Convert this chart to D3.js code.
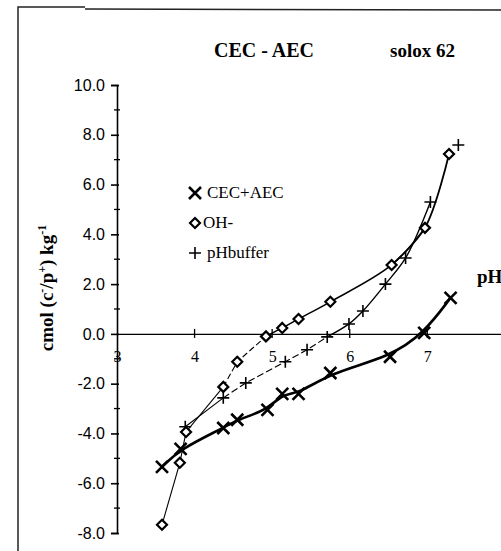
<!DOCTYPE html>
<html>
<head>
<meta charset="utf-8">
<script src="https://cdn.jsdelivr.net/npm/d3@7"></script>
<style>
  html, body { margin: 0; padding: 0; background: #fff; }
  svg { display: block; }
  .serif { font-family: "Liberation Serif", "DejaVu Serif", serif; }
  .sans { font-family: "Liberation Sans", Arial, sans-serif; }
</style>
</head>
<body>
<svg id="chart" width="501" height="551"></svg>
<script>
// CEC + AEC (cmol kg-1) against pH
const cecPH  = [3.58, 3.82, 4.37, 4.55, 4.94, 5.13, 5.34, 5.75, 6.52, 6.96, 7.30];
const cecVal = [-5.34, -4.62, -3.78, -3.45, -3.05, -2.41, -2.41, -1.57, -0.92, 0.04, 1.45];

// OH- consumption
const ohPH  = [3.58, 3.81, 3.89, 4.37, 4.55, 4.92, 5.13, 5.34, 5.75, 6.54, 6.97, 7.28];
const ohVal = [-7.67, -5.18, -3.94, -2.13, -1.12, -0.10, 0.24, 0.60, 1.29, 2.77, 4.26, 7.23];

// pH buffer curve
const bufPH  = [3.88, 4.37, 4.66, 5.17, 5.45, 5.71, 5.99, 6.17, 6.46, 6.72, 7.04, 7.40];
const bufVal = [-3.73, -2.57, -1.97, -1.12, -0.64, -0.12, 0.40, 0.92, 2.00, 3.05, 5.30, 7.59];

const yMajor = [-8, -6, -4, -2, 0, 2, 4, 6, 8, 10];
const yMinor = [-7, -5, -3, -1, 1, 3, 5, 7, 9];
const xTicks = [3, 4, 5, 6, 7];
const legendNames = ["CEC+AEC", "OH-", "pHbuffer"];

const zip = (xs, ys) => xs.map((v, i) => [v, ys[i]]);
const cec = zip(cecPH, cecVal);
const oh = zip(ohPH, ohVal);
const buf = zip(bufPH, bufVal);

const svg = d3.select("#chart");
const x = d3.scaleLinear().domain([3, 7.95]).range([117, 501]);
const y = d3.scaleLinear().domain([-8, 10]).range([533, 85]);

// page frame
svg.append("path")
  .attr("d", "M18,551 L18,7 L85,7 M85,9 L501,10")
  .attr("fill", "none").attr("stroke", "#222").attr("stroke-width", 1.5);

// y axis
const yAxis = svg.append("g").attr("transform", `translate(${x(3)},0)`)
  .call(d3.axisLeft(y).tickValues(yMajor).tickFormat(d => d.toFixed(1)).tickSize(6).tickPadding(6));
yAxis.select(".domain").attr("stroke", "#000").attr("stroke-width", 1.6);
yAxis.selectAll(".tick line").attr("stroke", "#000").attr("stroke-width", 1.6).attr("x2", -6).attr("x1", 2);
yAxis.selectAll("text").attr("class", "sans").style("font-size", "16px").attr("fill", "#000");
yAxis.append("g").selectAll("line").data(yMinor).join("line")
  .attr("x1", -3).attr("x2", 3).attr("y1", d => y(d)).attr("y2", d => y(d))
  .attr("stroke", "#000").attr("stroke-width", 1.3);

// x axis through zero
const xAxis = svg.append("g").attr("transform", `translate(0,${y(0)})`)
  .call(d3.axisBottom(x).tickValues(xTicks).tickFormat(d3.format("d")).tickSize(0).tickPadding(17));
xAxis.select(".domain").attr("stroke", "#000").attr("stroke-width", 1.3);
xAxis.selectAll("text").attr("class", "serif").style("font-size", "16px").attr("fill", "#000");
xAxis.append("g").selectAll("line").data(xTicks.slice(1)).join("line")
  .attr("x1", d => x(d)).attr("x2", d => x(d)).attr("y1", -5).attr("y2", 4)
  .attr("stroke", "#000").attr("stroke-width", 1.3);

// curves
const smooth = d3.line().x(d => x(d[0])).y(d => y(d[1])).curve(d3.curveBasis);
const straight = d3.line().x(d => x(d[0])).y(d => y(d[1]));
const spline = d3.line().x(d => x(d[0])).y(d => y(d[1])).curve(d3.curveCatmullRom);

const lines = svg.append("g").attr("fill", "none").attr("stroke", "#000");
lines.append("path").attr("d", smooth([cec[0], ...cec, cec[cec.length - 1]])).attr("stroke-width", 2.6);
lines.append("path").attr("d", straight(oh.slice(0, 4))).attr("stroke-width", 1.1);
lines.append("path").attr("d", straight(oh.slice(3, 6))).attr("stroke-width", 1.1).attr("stroke-dasharray", "6,3");
lines.append("path").attr("d", spline(oh.slice(5, 11))).attr("stroke-width", 1.5);
lines.append("path").attr("d", spline(oh.slice(9))).attr("stroke-width", 1.8);
lines.append("path").attr("d", straight(buf.slice(0, 2))).attr("stroke-width", 1.1);
lines.append("path").attr("d", straight(buf.slice(1, 6))).attr("stroke-width", 1.1).attr("stroke-dasharray", "7,3");
lines.append("path").attr("d", spline(buf.slice(5, 11))).attr("stroke-width", 1.4);

// marker shapes
function cross(g, s) {
  g.append("path").attr("d", `M${-s},${-s}L${s},${s}M${-s},${s}L${s},${-s}`)
    .attr("stroke", "#000").attr("stroke-width", 2.6).attr("fill", "none");
}
function diamond(g, s) {
  g.append("path").attr("d", `M0,${-s}L${s},0L0,${s}L${-s},0Z`)
    .attr("stroke", "#000").attr("stroke-width", 2.2).attr("fill", "#fff");
}
function plus(g, s) {
  g.append("path").attr("d", `M${-s},0L${s},0M0,${-s}L0,${s}`)
    .attr("stroke", "#000").attr("stroke-width", 1.6).attr("fill", "none");
}

const marks = svg.append("g");
[[buf, plus, 6], [cec, cross, 6], [oh, diamond, 5]].forEach(([data, shape, s]) => {
  marks.append("g").selectAll("g").data(data).join("g")
    .attr("transform", d => `translate(${x(d[0])},${y(d[1])})`)
    .each(function () { shape(d3.select(this), s); });
});

// legend
const legend = svg.append("g").attr("transform", "translate(195,193)");
[cross, diamond, plus].forEach((shape, i) => {
  const row = legend.append("g").attr("transform", `translate(0,${i * 30})`);
  shape(row.append("g"), i === 1 ? 5 : 6);
  row.append("text").attr("class", "serif").attr("x", i === 1 ? 8 : 12).attr("y", 5)
    .style("font-size", "17px").text(legendNames[i]);
});

// titles
svg.append("text").attr("class", "serif").attr("x", 214).attr("y", 57)
  .style("font-size", "20px").style("font-weight", "bold").text("CEC - AEC");
svg.append("text").attr("class", "serif").attr("x", 390).attr("y", 57)
  .style("font-size", "19px").style("font-weight", "bold").text("solox 62");
svg.append("text").attr("class", "serif").attr("x", 477).attr("y", 283)
  .style("font-size", "19px").style("font-weight", "bold").text("pH");

// y axis title
const yt = svg.append("text").attr("class", "serif")
  .attr("transform", "translate(53,288) rotate(-90)")
  .attr("text-anchor", "middle").style("font-size", "19px").style("font-weight", "bold");
yt.append("tspan").text("cmol (c");
yt.append("tspan").attr("dy", -7).style("font-size", "12px").text("-");
yt.append("tspan").attr("dy", 7).text("/p");
yt.append("tspan").attr("dy", -7).style("font-size", "12px").text("+");
yt.append("tspan").attr("dy", 7).text(") kg");
yt.append("tspan").attr("dy", -7).style("font-size", "12px").text("-1");
</script>
</body>
</html>
